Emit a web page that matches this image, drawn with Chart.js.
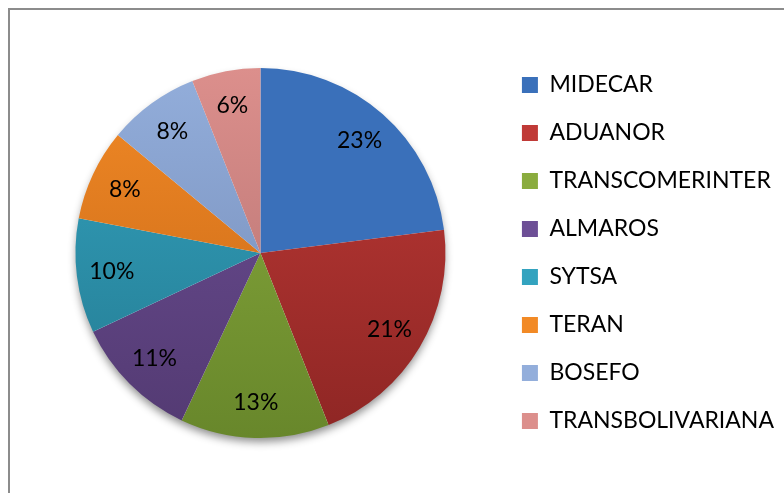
<!DOCTYPE html>
<html>
<head>
<meta charset="utf-8">
<script src="https://cdn.jsdelivr.net/npm/chart.js@4.4.0/dist/chart.umd.min.js"></script>
<style>
  body { margin: 0; background: #fff; }
  #frame {
    position: absolute; left: 8px; top: 8px; width: 820px; height: 520px;
    border-left: 2px solid #8c8c8c; border-top: 2px solid #8c8c8c;
  }
  #chart { position: absolute; left: 0; top: 0; }
</style>
</head>
<body>
<div id="frame"></div>
<canvas id="chart" width="784" height="493"></canvas>
<script>
// empresas y su participacion (%)
const companies = ["MIDECAR", "ADUANOR", "TRANSCOMERINTER", "ALMAROS", "SYTSA", "TERAN", "BOSEFO", "TRANSBOLIVARIANA"];
const shares = [23, 21, 13, 11, 10, 8, 8, 6];

// colores: claro arriba, oscuro abajo (degradado tipo Excel)
const lightColors = ["#3a70ba", "#c03a37", "#8aac3e", "#6d4f96", "#33a3bf", "#f28a26", "#93aedb", "#dc8f8c"];
const darkColors = ["#2a5690", "#8e2624", "#68872b", "#533a72", "#247a91", "#c46516", "#7188b4", "#b06f6e"];

const FONT = "'Lato', sans-serif";

function sliceFill(context) {
  const chart = context.chart;
  const i = context.dataIndex;
  const arc = chart.getDatasetMeta(0).data[0];
  if (!arc || !arc.outerRadius) return lightColors[i];
  const g = chart.ctx.createLinearGradient(0, arc.y - arc.outerRadius, 0, arc.y + arc.outerRadius);
  g.addColorStop(0, lightColors[i]);
  g.addColorStop(1, darkColors[i]);
  return g;
}

// sombra bajo el pastel
const pieShadow = {
  id: "pieShadow",
  beforeDatasetsDraw(chart) {
    const arc = chart.getDatasetMeta(0).data[0];
    if (!arc) return;
    const ctx = chart.ctx;
    ctx.save();
    ctx.shadowColor = "rgba(0,0,0,0.45)";
    ctx.shadowBlur = 9;
    ctx.shadowOffsetY = 5;
    ctx.fillStyle = "#fff";
    ctx.beginPath();
    ctx.arc(arc.x, arc.y, arc.outerRadius - 1, 0, Math.PI * 2);
    ctx.fill();
    ctx.restore();
  }
};

// etiquetas de porcentaje dentro de cada porcion
const pctLabels = {
  id: "pctLabels",
  afterDatasetsDraw(chart) {
    const ctx = chart.ctx;
    const total = shares.reduce((a, b) => a + b, 0);
    ctx.save();
    ctx.font = "23px " + FONT;
    ctx.fillStyle = "#000";
    ctx.textAlign = "center";
    ctx.textBaseline = "middle";
    chart.getDatasetMeta(0).data.forEach(function (arc, i) {
      const mid = (arc.startAngle + arc.endAngle) / 2;
      const r = arc.outerRadius * 0.81;
      const pct = Math.round(shares[i] / total * 100) + "%";
      ctx.fillText(pct, arc.x + Math.cos(mid) * r, arc.y + Math.sin(mid) * r);
    });
    ctx.restore();
  }
};

new Chart(document.getElementById("chart"), {
  type: "pie",
  data: {
    labels: companies,
    datasets: [{
      data: shares,
      backgroundColor: sliceFill,
      borderWidth: 0
    }]
  },
  options: {
    responsive: false,
    animation: false,
    radius: 185,
    layout: { padding: { top: 45, bottom: 32, left: 24, right: 0 } },
    plugins: {
      tooltip: { enabled: false },
      legend: {
        position: "right",
        maxWidth: 288,
        labels: {
          boxWidth: 16,
          boxHeight: 16,
          padding: 25,
          color: "#000",
          font: { family: FONT, size: 23 },
          generateLabels(chart) {
            return companies.map(function (name, i) {
              return { text: name, fillStyle: lightColors[i], strokeStyle: lightColors[i], lineWidth: 0, index: i };
            });
          }
        }
      }
    }
  },
  plugins: [pieShadow, pctLabels]
});
</script>
</body>
</html>
